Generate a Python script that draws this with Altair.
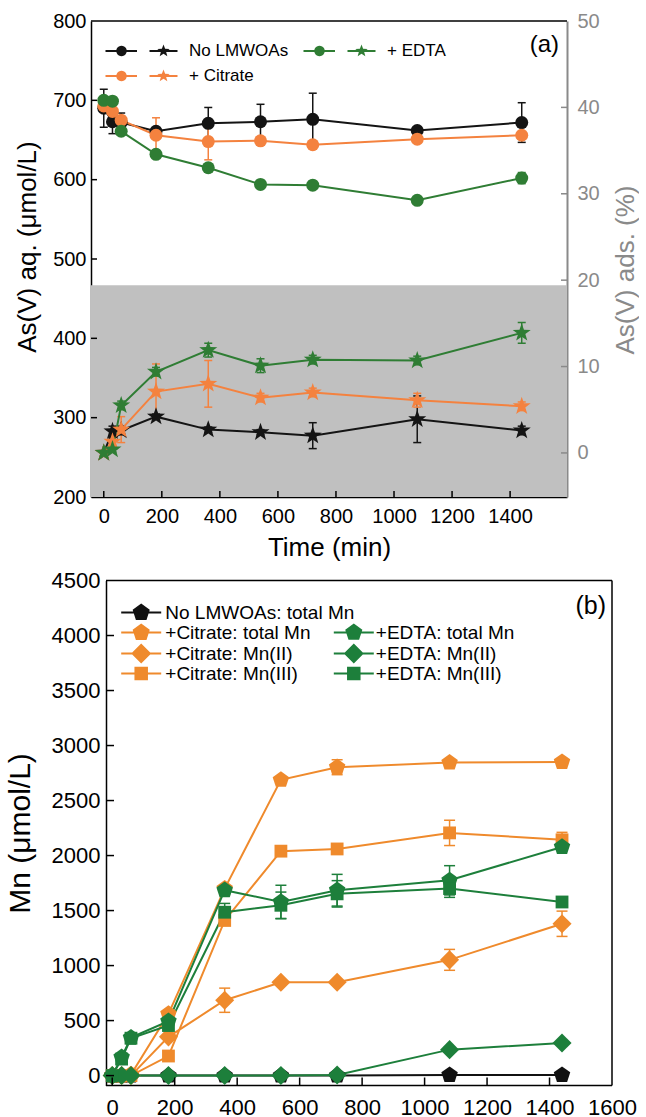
import math
import altair as alt
import pandas as pd

FONT = "Liberation Sans"

# ------------------------------------------------------------------ data
time_min = [0, 30, 60, 180, 360, 540, 720, 1080, 1440]

# panel (a): aqueous As(V) (left axis, circles) and adsorbed As(V) (right axis, stars)
a_series = ["No LMWOAs", "+ Citrate", "+ EDTA"]
a_colors = ["#141414", "#f4823f", "#2f7d34"]

aq_none = [690, 673, 672, 661, 671, 673, 676, 662, 672]
aq_none_err = [24, 15, 12, 4, 20, 22, 33, 3, 25]
aq_citrate = [693, 686, 675, 656, 648, 649, 644, 651, 656]
aq_citrate_err = [5, 5, 5, 22, 23, 4, 4, 4, 4]
aq_edta = [700, 699, 661, 632, 615, 594, 593, 574, 602]
aq_edta_err = [3, 3, 3, 5, 5, 5, 4, 4, 7]

ads_none = [0, 2.5, 2.6, 4.2, 2.7, 2.4, 2.0, 3.9, 2.6]
ads_none_err = [0, 0.6, 0.5, 0.3, 0.3, 0.3, 1.5, 2.7, 0.5]
ads_citrate = [0, 1.3, 2.7, 7.1, 8.0, 6.4, 7.0, 6.1, 5.4]
ads_citrate_err = [0, 0.5, 1.5, 3.2, 2.7, 0.5, 0.5, 0.8, 0.5]
ads_edta = [0, 0.4, 5.5, 9.4, 11.9, 10.1, 10.8, 10.7, 13.9]
ads_edta_err = [0, 0.3, 0.5, 0.5, 0.8, 0.8, 0.5, 0.5, 1.2]

shade_aq = [200, 467]

# panel (b): dissolved Mn
b_col1 = ["No LMWOAs: total Mn", "+Citrate: total Mn", "+Citrate: Mn(II)", "+Citrate: Mn(III)"]
b_col2 = ["+EDTA: total Mn", "+EDTA: Mn(II)", "+EDTA: Mn(III)"]
b_colors1 = ["#111111", "#ef8a2c", "#ef8a2c", "#ef8a2c"]
b_colors2 = ["#1d7f3b", "#1d7f3b", "#1d7f3b"]

mn_none_total = [0, 0, 0, 0, 0, 0, 0, 5, 5]
mn_none_total_err = [0, 0, 0, 0, 0, 0, 0, 0, 0]
mn_cit_total = [0, 0, 10, 561, 1700, 2688, 2803, 2845, 2850]
mn_cit_total_err = [0, 0, 0, 20, 30, 20, 68, 30, 20]
mn_cit_ii = [0, 0, 0, 352, 685, 848, 848, 1052, 1380]
mn_cit_ii_err = [0, 0, 0, 20, 110, 20, 20, 95, 115]
mn_cit_iii = [0, 0, 0, 178, 1410, 2040, 2060, 2206, 2143]
mn_cit_iii_err = [0, 0, 0, 20, 40, 20, 20, 115, 68]
mn_edta_total = [0, 168, 345, 495, 1685, 1578, 1685, 1775, 2078]
mn_edta_total_err = [0, 30, 20, 30, 30, 152, 144, 133, 30]
mn_edta_ii = [0, 0, 0, 0, 0, 0, 5, 236, 296]
mn_edta_ii_err = [0, 0, 0, 0, 0, 0, 0, 10, 10]
mn_edta_iii = [0, 150, 340, 455, 1485, 1548, 1652, 1700, 1578]
mn_edta_iii_err = [0, 20, 20, 20, 80, 120, 120, 80, 20]

panel_tags = ["(a)", "(b)"]

# axis ranges and tick labels
xa_domain = [-44, 1596]
ya_domain = [200, 800]
yr_domain = [-5.1, 50]
xb_frame = [-20, 1600]          # visible frame of panel (b)
xb_domain = [-68, 1600]         # scale range incl. a margin left of the frame
yb_domain = [-90, 4500]
x_labels = [0, 200, 400, 600, 800, 1000, 1200, 1400, 1600]
ya_labels = [200, 300, 400, 500, 600, 700, 800]
yr_labels = [0, 10, 20, 30, 40, 50]
yb_labels = [0, 500, 1000, 1500, 2000, 2500, 3000, 3500, 4000, 4500]
x_inner_ticks = [0, 200, 400, 600, 800, 1000, 1200, 1400]
ya_inner_ticks = [300, 400, 500, 600, 700]
yr_inner_ticks = [0, 10, 20, 30, 40]
yb_inner_ticks = [0, 500, 1000, 1500, 2000, 2500, 3000, 3500, 4000]

# ------------------------------------------------------------------ sizes / styles
WA, HA = 476, 476
WB, HB = 521, 505
B_FRAME_SHIFT = 15
GRAY_AXIS = "#8a8a8a"


def series_frame(names, values, errors):
    rows = []
    for name, vals, errs in zip(names, values, errors):
        for t, v, e in zip(time_min, vals, errs):
            rows.append({"series": name, "time": t, "value": v,
                         "lo": v - e, "hi": v + e, "err": e})
    return pd.DataFrame(rows)


def cap_frame(df):
    d = df[df["err"] > 0]
    return pd.concat([d.assign(cap=d["lo"]), d.assign(cap=d["hi"])], ignore_index=True)


def fmt(v):
    s = ("%.3f" % v).rstrip("0").rstrip(".")
    return "0" if s in ("-0", "") else s


def polygon_path(pts):
    return "M" + " L".join("%s,%s" % (fmt(x), fmt(y)) for x, y in pts) + " Z"


def rect_path(x1, x2, h):
    return polygon_path([(x1, -h), (x2, -h), (x2, h), (x1, h)])


def circle_path(cx, r, n=24):
    return polygon_path([(cx + r * math.sin(2 * math.pi * k / n), -r * math.cos(2 * math.pi * k / n))
                         for k in range(n)])


def star_path(cx, R, r):
    pts = []
    for k in range(10):
        a = math.radians(36 * k)
        rr = R if k % 2 == 0 else r
        pts.append((cx + rr * math.sin(a), -rr * math.cos(a)))
    return polygon_path(pts)


def pentagon_path(cx, R):
    return polygon_path([(cx + R * math.sin(math.radians(72 * k)), -R * math.cos(math.radians(72 * k)))
                         for k in range(5)])


def diamond_path(cx, d):
    return polygon_path([(cx, -d), (cx + d, 0), (cx, d), (cx - d, 0)])


def square_path(cx, s):
    return rect_path(cx - s, cx + s, s)


# plot symbols (unit = sqrt(size)/2 px)
PT_SIZE_B = 300
SYM_PENT = pentagon_path(0, 1.0)
SYM_DIAM = diamond_path(0, 1.1)
SYM_SQR = square_path(0, 0.74)
SYM_STAR = star_path(0, 1.55, 0.62)
b_shapes1 = [SYM_PENT, SYM_PENT, SYM_DIAM, SYM_SQR]
b_shapes2 = [SYM_PENT, SYM_DIAM, SYM_SQR]

# legend symbols (line + marker), unit = 5 px at size 100
LEG_A = " ".join([rect_path(-7.2, -0.9, 0.2), circle_path(-4.0, 1.05),
                  rect_path(1.6, 7.2, 0.2), star_path(4.4, 1.3, 0.55)])
LEG_PENT = rect_path(-4, 4, 0.2) + " " + pentagon_path(0, 1.8)
LEG_DIAM = rect_path(-4, 4, 0.2) + " " + diamond_path(0, 2.0)
LEG_SQR = rect_path(-4, 4, 0.2) + " " + square_path(0, 1.35)
leg_shapes1 = [LEG_PENT, LEG_PENT, LEG_DIAM, LEG_SQR]
leg_shapes2 = [LEG_PENT, LEG_DIAM, LEG_SQR]

# ------------------------------------------------------------------ frames
aq_df = series_frame(a_series, [aq_none, aq_citrate, aq_edta],
                     [aq_none_err, aq_citrate_err, aq_edta_err])
ads_df = series_frame(a_series, [ads_none, ads_citrate, ads_edta],
                      [ads_none_err, ads_citrate_err, ads_edta_err])
aq_caps = cap_frame(aq_df)
ads_caps = cap_frame(ads_df)
shade_df = pd.DataFrame({"lo": [shade_aq[0]], "hi": [shade_aq[1]]})
frame_a_df = pd.DataFrame({"x": [xa_domain[0]], "x2": [xa_domain[1]], "y": [ya_domain[1]], "y2": [ya_domain[1]]})

mn_df = series_frame(b_col1 + b_col2,
                     [mn_none_total, mn_cit_total, mn_cit_ii, mn_cit_iii,
                      mn_edta_total, mn_edta_ii, mn_edta_iii],
                     [mn_none_total_err, mn_cit_total_err, mn_cit_ii_err, mn_cit_iii_err,
                      mn_edta_total_err, mn_edta_ii_err, mn_edta_iii_err])
mn_caps = cap_frame(mn_df)
frame_b_df = pd.DataFrame({
    "x": [xb_frame[0], xb_frame[0], xb_frame[1]],
    "x2": [xb_frame[1], xb_frame[1], xb_frame[1]],
    "y": [yb_domain[1], yb_domain[0], yb_domain[0]],
    "y2": [yb_domain[1], yb_domain[0], yb_domain[1]],
})

# ------------------------------------------------------------------ axes
common_axis = dict(grid=False, ticks=False, tickSize=0, domainColor="black", domainWidth=1.5,
                   labelColor="black", titleColor="black", titleFontWeight="normal",
                   labelFont=FONT, titleFont=FONT, labelFlush=False, labelOverlap=False,
                   format="d")

ax_a_bottom = alt.Axis(values=x_labels, title="Time (min)", labelFontSize=20, labelPadding=9,
                       titleFontSize=26, titlePadding=8, **common_axis)
ax_a_left = alt.Axis(values=ya_labels, title="As(V) aq. (μmol/L)", labelFontSize=20, labelPadding=5,
                     titleFontSize=26, titlePadding=12, titleY=225.5, **common_axis)
ax_a_right = alt.Axis(orient="right", values=yr_labels, title="As(V) ads. (%)", grid=False,
                      ticks=False, tickSize=0, domainColor=GRAY_AXIS, domainWidth=2,
                      labelColor=GRAY_AXIS, titleColor=GRAY_AXIS, titleFontWeight="normal",
                      labelFont=FONT, titleFont=FONT, labelFontSize=20, labelPadding=10,
                      titleFontSize=26, titlePadding=13, titleAngle=270, titleBaseline="top",
                      titleY=248.5, labelFlush=False, format="d")

ax_b_bottom = alt.Axis(values=x_labels, title=None, labelFontSize=22, labelPadding=12,
                       grid=False, ticks=False, tickSize=0, domain=False, labelColor="black",
                       labelFont=FONT, labelFlush=False, labelOverlap=False, format="d")
ax_b_left = alt.Axis(values=yb_labels, title="Mn (μmol/L)", labelFontSize=22, labelPadding=6,
                     titleFontSize=30, titlePadding=16, offset=-B_FRAME_SHIFT, **common_axis)

xa_scale = alt.Scale(domain=xa_domain, nice=False, zero=False)
ya_scale = alt.Scale(domain=ya_domain, nice=False, zero=False)
yr_scale = alt.Scale(domain=yr_domain, nice=False, zero=False)
xb_scale = alt.Scale(domain=xb_domain, nice=False, zero=False)
yb_scale = alt.Scale(domain=yb_domain, nice=False, zero=False)

# ------------------------------------------------------------------ panel (a)
a_color_scale = alt.Scale(domain=a_series, range=a_colors)
col_a = alt.Color("series:N", scale=a_color_scale, legend=None)
XA = alt.X("time:Q", scale=xa_scale, axis=ax_a_bottom)


def YL(f):
    return alt.Y(f, scale=ya_scale, axis=ax_a_left)


def YR(f):
    return alt.Y(f, scale=yr_scale, axis=ax_a_right)


shade = alt.Chart(shade_df).mark_rect(color="#c0c0c0").encode(
    x=alt.value(0), x2=alt.value(WA), y=YL("lo:Q"), y2="hi:Q")
top_a = alt.Chart(frame_a_df).mark_rule(color="black", strokeWidth=1.5).encode(
    x=alt.X("x:Q", scale=xa_scale, axis=ax_a_bottom), x2="x2:Q", y=YL("y:Q"), y2="y2:Q")
err_aq = alt.Chart(aq_df).mark_rule(strokeWidth=1.5).encode(x=XA, y=YL("lo:Q"), y2="hi:Q", color=col_a)
cap_aq = alt.Chart(aq_caps).mark_tick(orient="horizontal", size=8, thickness=1.5, opacity=1).encode(
    x=XA, y=YL("cap:Q"), color=col_a)
line_aq = alt.Chart(aq_df).mark_line(strokeWidth=2).encode(x=XA, y=YL("value:Q"), color=col_a)
pts_aq = alt.Chart(aq_df).mark_point(filled=True, size=169, opacity=1).encode(
    x=XA, y=YL("value:Q"), color=col_a)
tick_left_a = alt.Chart(pd.DataFrame({"v": ya_inner_ticks})).mark_tick(
    orient="horizontal", size=12, thickness=1.5, color="black", opacity=1, clip=True).encode(
    x=alt.value(0), y=YL("v:Q"))
tick_bottom_a = alt.Chart(pd.DataFrame({"v": x_inner_ticks})).mark_tick(
    orient="vertical", size=12, thickness=1.5, color="black", opacity=1, clip=True).encode(
    x=alt.X("v:Q", scale=xa_scale, axis=ax_a_bottom), y=alt.value(HA))
tag_a = alt.Chart(pd.DataFrame({"tag": [panel_tags[0]]})).mark_text(
    align="right", baseline="middle", fontSize=24, font=FONT, color="black").encode(
    text="tag:N", x=alt.value(WA - 8), y=alt.value(24))
legend_a_def = alt.Legend(title=None, orient="none", legendX=42, legendY=21.2, columns=2,
                          symbolType=LEG_A, symbolSize=100, symbolStrokeWidth=0, symbolOpacity=1,
                          labelFont=FONT, labelFontSize=17, labelColor="black",
                          labelOffset=39, labelLimit=300, columnPadding=14, rowPadding=7.3, padding=0)
leg_a_df = pd.DataFrame({"series": a_series, "time": [0] * 3, "value": [500] * 3})
legend_a = alt.Chart(leg_a_df).transform_filter("false").mark_point(filled=True, opacity=1, size=100).encode(
    x=XA, y=YL("value:Q"),
    color=alt.Color("series:N", scale=alt.Scale(domain=a_series, range=a_colors), legend=legend_a_def))
left_a = alt.layer(shade, top_a, err_aq, cap_aq, line_aq, pts_aq, tick_left_a, tick_bottom_a, tag_a,
                   legend_a).resolve_scale(color="independent")

err_ads = alt.Chart(ads_df).mark_rule(strokeWidth=1.5).encode(x=XA, y=YR("lo:Q"), y2="hi:Q", color=col_a)
cap_ads = alt.Chart(ads_caps).mark_tick(orient="horizontal", size=8, thickness=1.5, opacity=1).encode(
    x=XA, y=YR("cap:Q"), color=col_a)
line_ads = alt.Chart(ads_df).mark_line(strokeWidth=2).encode(x=XA, y=YR("value:Q"), color=col_a)
pts_ads = alt.Chart(ads_df).mark_point(shape=SYM_STAR, filled=True, size=150, opacity=1).encode(
    x=XA, y=YR("value:Q"), color=col_a)
tick_right_a = alt.Chart(pd.DataFrame({"v": yr_inner_ticks})).mark_tick(
    orient="horizontal", size=12, thickness=1.5, color=GRAY_AXIS, opacity=1, clip=True).encode(
    x=alt.value(WA), y=YR("v:Q"))
right_a = alt.layer(err_ads, cap_ads, line_ads, pts_ads, tick_right_a)

panel_a = alt.layer(left_a, right_a).resolve_scale(y="independent", color="independent").properties(
    width=WA, height=HA)

# ------------------------------------------------------------------ panel (b)
col_b = alt.Color("series:N", scale=alt.Scale(domain=b_col1 + b_col2, range=b_colors1 + b_colors2),
                  legend=None)
shp_b = alt.Shape("series:N", scale=alt.Scale(domain=b_col1 + b_col2, range=b_shapes1 + b_shapes2),
                  legend=None)
XB = alt.X("time:Q", scale=xb_scale, axis=ax_b_bottom)


def YB(f):
    return alt.Y(f, scale=yb_scale, axis=ax_b_left)


frame_b = alt.Chart(frame_b_df).mark_rule(color="black", strokeWidth=1.5).encode(
    x=alt.X("x:Q", scale=xb_scale, axis=ax_b_bottom), x2="x2:Q", y=YB("y:Q"), y2="y2:Q")
err_mn = alt.Chart(mn_df).mark_rule(strokeWidth=1.5).encode(x=XB, y=YB("lo:Q"), y2="hi:Q", color=col_b)
cap_mn = alt.Chart(mn_caps).mark_tick(orient="horizontal", size=11, thickness=1.5, opacity=1).encode(
    x=XB, y=YB("cap:Q"), color=col_b)
line_mn = alt.Chart(mn_df).mark_line(strokeWidth=2).encode(x=XB, y=YB("value:Q"), color=col_b,
                                                           detail="series:N")
pts_mn = alt.Chart(mn_df).mark_point(filled=True, size=PT_SIZE_B, opacity=1, strokeWidth=0).encode(
    x=XB, y=YB("value:Q"), color=col_b, shape=shp_b)
tick_left_b = alt.Chart(pd.DataFrame({"v": yb_inner_ticks, "x": [xb_frame[0]] * len(yb_inner_ticks)})).mark_tick(
    orient="horizontal", size=8, thickness=1.5, color="black", opacity=1, xOffset=4).encode(
    x=alt.X("x:Q", scale=xb_scale, axis=ax_b_bottom), y=YB("v:Q"))
tick_bottom_b = alt.Chart(pd.DataFrame({"v": x_inner_ticks})).mark_tick(
    orient="vertical", size=16, thickness=1.5, color="black", opacity=1, clip=True).encode(
    x=alt.X("v:Q", scale=xb_scale, axis=ax_b_bottom), y=alt.value(HB))
tag_b = alt.Chart(pd.DataFrame({"tag": [panel_tags[1]]})).mark_text(
    align="right", baseline="middle", fontSize=25, font=FONT, color="black").encode(
    text="tag:N", x=alt.value(WB - 6), y=alt.value(25))
plot_b = alt.layer(frame_b, err_mn, cap_mn, line_mn, pts_mn, tick_left_b, tick_bottom_b, tag_b)

leg_common = dict(title=None, orient="none", symbolSize=100, symbolStrokeWidth=0,
                  labelFont=FONT, labelFontSize=19, labelColor="black", labelLimit=400,
                  rowPadding=0, padding=0, columns=1, symbolOpacity=1)
legend_b1_def = alt.Legend(legendX=40.7, legendY=22.6, labelOffset=14.6, **leg_common)
legend_b2_def = alt.Legend(legendX=253.3, legendY=42.5, labelOffset=12.5, **leg_common)
leg1_df = pd.DataFrame({"series": b_col1, "time": [0] * len(b_col1), "value": [0] * len(b_col1)})
leg2_df = pd.DataFrame({"series": b_col2, "time": [0] * len(b_col2), "value": [0] * len(b_col2)})
legend_b1 = alt.Chart(leg1_df).transform_filter("false").mark_point(filled=True, opacity=1, size=100).encode(
    x=XB, y=YB("value:Q"),
    color=alt.Color("series:N", scale=alt.Scale(domain=b_col1, range=b_colors1), legend=legend_b1_def),
    shape=alt.Shape("series:N", scale=alt.Scale(domain=b_col1, range=leg_shapes1), legend=legend_b1_def))
legend_b2 = alt.Chart(leg2_df).transform_filter("false").mark_point(filled=True, opacity=1, size=100).encode(
    x=XB, y=YB("value:Q"),
    color=alt.Color("series:N", scale=alt.Scale(domain=b_col2, range=b_colors2), legend=legend_b2_def),
    shape=alt.Shape("series:N", scale=alt.Scale(domain=b_col2, range=leg_shapes2), legend=legend_b2_def))

panel_b = alt.layer(plot_b, legend_b1, legend_b2).resolve_scale(
    color="independent", shape="independent").properties(width=WB, height=HB)

chart = alt.vconcat(panel_a, panel_b, spacing=9.5).properties(
    padding={"left": 5, "top": 11, "right": 0, "bottom": 0}, background="white"
).configure_view(stroke=None)

chart.save("out.html", embed_options={"renderer": "svg", "actions": False})
